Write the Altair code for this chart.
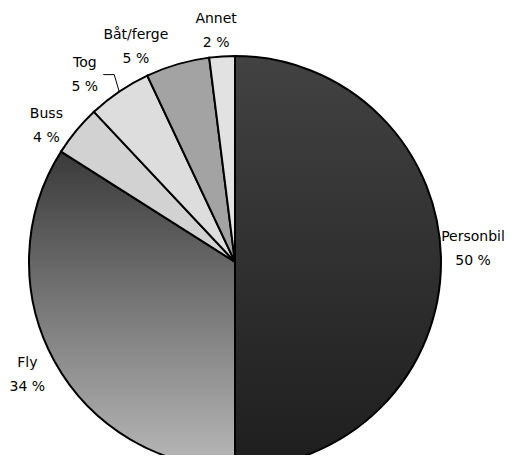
import altair as alt
import pandas as pd

categories = ["Personbil", "Fly", "Buss", "Tog", "Båt/ferge", "Annet"]
shares = [50, 34, 4, 5, 5, 2]
labels = ["Personbil\n50 %", "Fly\n34 %", "Buss\n4 %", "Tog\n5 %", "Båt/ferge\n5 %", "Annet\n2 %"]

# fills (gradients for the two big slices, flat greys for textured ones)
fills = {
    "Personbil": {"gradient": "linear", "x1": 0, "y1": 0, "x2": 0, "y2": 1,
                  "stops": [{"offset": 0, "color": "#424242"}, {"offset": 1, "color": "#1e1e1e"}]},
    "Fly": {"gradient": "linear", "x1": 0, "y1": 0, "x2": 0, "y2": 1,
            "stops": [{"offset": 0, "color": "#3a3a3a"}, {"offset": 1, "color": "#b8b8b8"}]},
    "Buss": "#d2d2d2",
    "Tog": "#dddddd",
    "Båt/ferge": "#a3a3a3",
    "Annet": "#e2e2e2",
}
# label nudges (pixels) relative to the slice's mid-angle position
nudge = {
    "Personbil": (1, -25),
    "Fly": (0, -13),
    "Buss": (-6, 3),
    "Tog": (-17, -3),
    "Båt/ferge": (-33, 1),
    "Annet": (-4, -6),
}

df = pd.DataFrame({"idx": range(len(categories)), "cat": categories,
                   "value": shares, "label": labels})

CX, CY, R, RL = 227, 254, 206, 237
theta_scale = alt.Scale(domain=[0, 100], range=[0, 6.283185307179586])

base = (
    alt.Chart(df)
    .transform_window(end="sum(value)", sort=[alt.SortField("idx")], frame=[None, 0])
    .transform_calculate(start="datum.end - datum.value", mid="datum.end - datum.value / 2")
)

layers = []
for c in categories:
    layers.append(
        base.transform_filter(alt.datum.cat == c)
        .mark_arc(radius=R, fill=fills[c], stroke="black", strokeWidth=2)
        .encode(
            theta=alt.Theta("start:Q", scale=theta_scale),
            theta2="end:Q",
            x=alt.value(CX),
            y=alt.value(CY),
        )
    )

for c in categories:
    dx, dy = nudge[c]
    layers.append(
        base.transform_filter(alt.datum.cat == c)
        .mark_text(radius=RL, dx=dx, dy=dy, font="DejaVu Sans", fontSize=14,
                   lineBreak="\n", lineHeight=24, color="black", align="center",
                   baseline="middle")
        .encode(
            theta=alt.Theta("mid:Q", scale=theta_scale),
            x=alt.value(CX),
            y=alt.value(CY),
            text="label:N",
        )
    )

# leader line for "Tog"
tog = (
    base.transform_filter(alt.datum.cat == "Tog")
    .transform_calculate(
        ex=f"{CX} + {R} * sin(2 * PI * datum.mid / 100)",
        ey=f"{CY} - {R} * cos(2 * PI * datum.mid / 100)",
    )
    .transform_calculate(kx="datum.ex - 5", ky="datum.ey - 17", hx="datum.ex - 16")
)
layers.append(
    tog.mark_rule(color="black", strokeWidth=1).encode(
        x=alt.X("ex:Q", scale=None), y=alt.Y("ey:Q", scale=None),
        x2="kx:Q", y2="ky:Q")
)
layers.append(
    tog.mark_rule(color="black", strokeWidth=1).encode(
        x=alt.X("kx:Q", scale=None), y=alt.Y("ky:Q", scale=None),
        x2="hx:Q", y2="ky:Q")
)

chart = (
    alt.layer(*layers)
    .properties(width=499, height=447, autosize="none", padding=0)
    .configure_view(stroke=None)
)

chart.save("out.html", embed_options={"renderer": "svg", "actions": False})
